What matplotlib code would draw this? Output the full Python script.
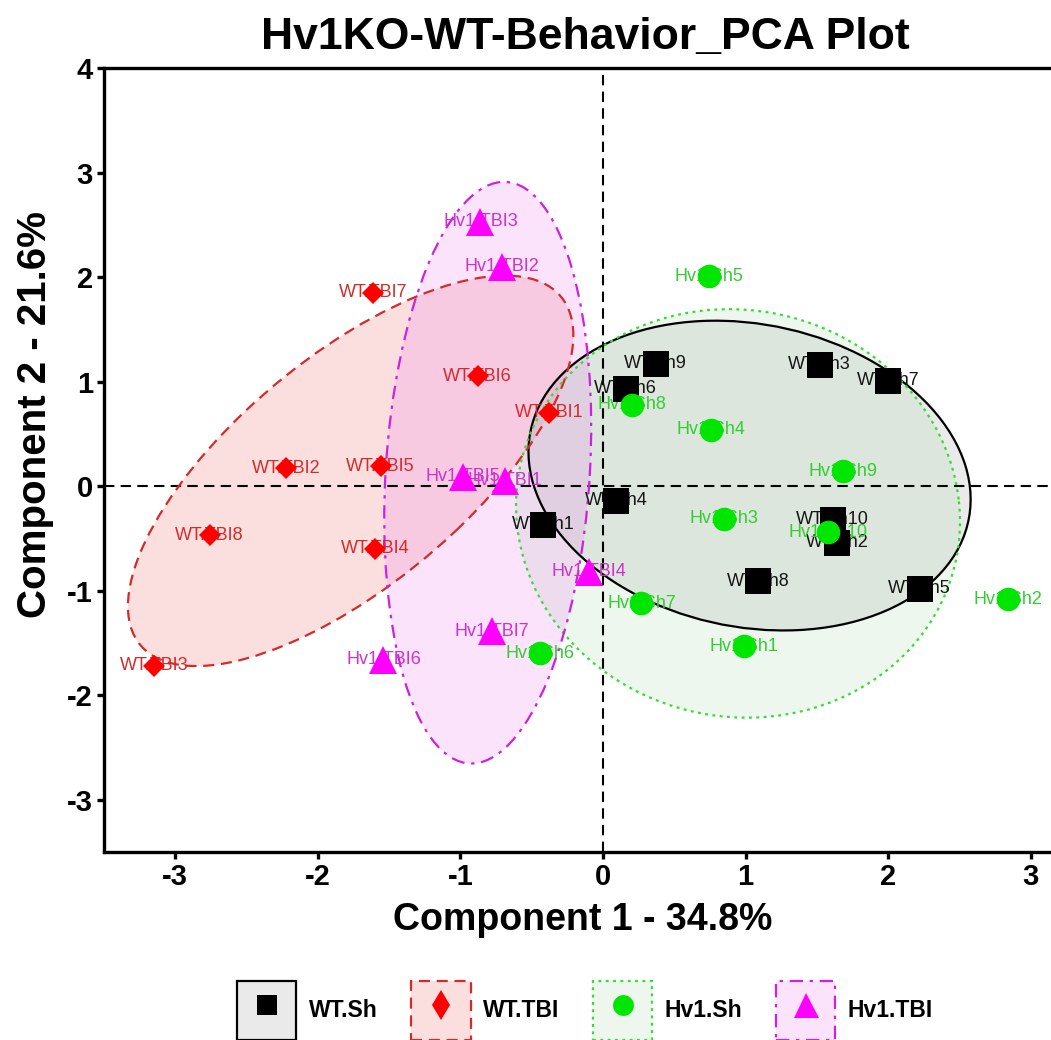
import numpy as np
import matplotlib.pyplot as plt
from matplotlib.colors import to_rgba
from matplotlib.patches import Ellipse, Rectangle
from matplotlib.lines import Line2D

# 数据
wt_sh_names = ['WT.Sh9', 'WT.Sh6', 'WT.Sh3', 'WT.Sh7', 'WT.Sh4',
               'WT.Sh1', 'WT.Sh10', 'WT.Sh2', 'WT.Sh8', 'WT.Sh5']
wt_sh_x = [0.37, 0.16, 1.52, 2.00, 0.09, -0.42, 1.61, 1.64, 1.09, 2.22]
wt_sh_y = [1.17, 0.93, 1.16, 1.01, -0.14, -0.37, -0.32, -0.54, -0.91, -0.98]

wt_tbi_names = ['WT.TBI7', 'WT.TBI6', 'WT.TBI1', 'WT.TBI2',
                'WT.TBI5', 'WT.TBI8', 'WT.TBI4', 'WT.TBI3']
wt_tbi_x = [-1.61, -0.88, -0.38, -2.22, -1.56, -2.76, -1.60, -3.15]
wt_tbi_y = [1.85, 1.05, 0.70, 0.17, 0.19, -0.47, -0.60, -1.72]

hv1_sh_names = ['Hv1.Sh5', 'Hv1.Sh8', 'Hv1.Sh4', 'Hv1.Sh9', 'Hv1.Sh3',
                'Hv1.Sh10', 'Hv1.Sh7', 'Hv1.Sh1', 'Hv1.Sh6', 'Hv1.Sh2']
hv1_sh_x = [0.74, 0.20, 0.76, 1.68, 0.85, 1.58, 0.27, 0.99, -0.44, 2.84]
hv1_sh_y = [2.01, 0.78, 0.54, 0.14, -0.31, -0.44, -1.12, -1.53, -1.60, -1.08]

hv1_tbi_names = ['Hv1.TBI3', 'Hv1.TBI2', 'Hv1.TBI5', 'Hv1.TBI1',
                 'Hv1.TBI4', 'Hv1.TBI7', 'Hv1.TBI6']
hv1_tbi_x = [-0.86, -0.71, -0.98, -0.69, -0.10, -0.78, -1.54]
hv1_tbi_y = [2.53, 2.10, 0.09, 0.05, -0.82, -1.39, -1.66]

group_labels = ['WT.Sh', 'WT.TBI', 'Hv1.Sh', 'Hv1.TBI']

plt.rcParams['font.family'] = ['Liberation Sans', 'DejaVu Sans']
plt.rcParams['axes.unicode_minus'] = False

groups = [
    dict(names=wt_sh_names, x=wt_sh_x, y=wt_sh_y, marker='s', ms=19, lm='s', lms=14,
         color='black', text='#151515', edge='black', fill='#9a9a9a', ls='-', falpha=0.2),
    dict(names=wt_tbi_names, x=wt_tbi_x, y=wt_tbi_y, marker='D', ms=11.5, lm='d', lms=15,
         color='#ff0000', text='#d42a2a', edge='#d42a2a', fill='#f07070', ls=(0, (5, 3)), falpha=0.22),
    dict(names=hv1_sh_names, x=hv1_sh_x, y=hv1_sh_y, marker='o', ms=17, lm='o', lms=15,
         color='#00e600', text='#33cc33', edge='#33dd33', fill='#a8d8a8', ls=(0, (1.3, 2)), falpha=0.2),
    dict(names=hv1_tbi_names, x=hv1_tbi_x, y=hv1_tbi_y, marker='^', ms=20, lm='^', lms=18,
         color='#ff00ff', text='#cc33cc', edge='#cc22dd', fill='#f080f0', ls=(0, (6, 3, 1.5, 3)), falpha=0.22),
]


def conf_ellipse(x, y, n_std=1.7, **kw):
    # 协方差置信椭圆
    cov = np.cov(x, y)
    vals, vecs = np.linalg.eigh(cov)
    order = vals.argsort()[::-1]
    vals, vecs = vals[order], vecs[:, order]
    angle = np.degrees(np.arctan2(vecs[1, 0], vecs[0, 0]))
    w, h = 2 * n_std * np.sqrt(vals)
    return Ellipse((np.mean(x), np.mean(y)), w, h, angle=angle, **kw)


class BoxMarkerHandler:
    # 图例: 带边框的方块 + 居中的标记
    def legend_artist(self, legend, orig_handle, fontsize, handlebox):
        g = orig_handle
        x0, y0 = handlebox.xdescent, handlebox.ydescent
        w, h = handlebox.width, handlebox.height
        rect = Rectangle((-x0, -y0), w, h, facecolor=to_rgba(g['fill'], g['falpha']),
                         edgecolor=g['edge'], linestyle=g['ls'], linewidth=1.6,
                         transform=handlebox.get_transform())
        mk = Line2D([-x0 + w / 2], [-y0 + h * 0.6], linestyle='none', marker=g['lm'],
                    markersize=g['lms'], color=g['color'], markeredgewidth=0,
                    transform=handlebox.get_transform())
        handlebox.add_artist(rect)
        handlebox.add_artist(mk)
        return rect


fig = plt.figure(figsize=(10.51, 10.40), dpi=100)
ax = fig.add_axes([104 / 1051, 1 - 852 / 1040, 998 / 1051, 784 / 1040])

for g in groups:
    ax.add_patch(conf_ellipse(g['x'], g['y'], facecolor=g['fill'], alpha=g['falpha'],
                              edgecolor='none', zorder=1))
    ax.add_patch(conf_ellipse(g['x'], g['y'], facecolor='none', edgecolor=g['edge'],
                              linestyle=g['ls'], linewidth=1.6, zorder=3))

ax.axhline(0, color='black', linestyle=(0, (5, 3)), linewidth=1.5, zorder=2)
ax.axvline(0, color='black', linestyle=(0, (5, 3)), linewidth=1.5, zorder=2)

for g in groups:
    for name, x, y in zip(g['names'], g['x'], g['y']):
        ax.text(x, y, name, color=g['text'], fontsize=13, ha='center', va='center', zorder=4)
    ax.plot(g['x'], g['y'], linestyle='none', marker=g['marker'], markersize=g['ms'],
            color=g['color'], markeredgewidth=0, zorder=5)

ax.set_xlim(-3.5, 3.5)
ax.set_ylim(-3.5, 4)
ax.set_xticks(range(-3, 4))
ax.set_yticks(range(-3, 5))
for s in ['left', 'bottom', 'top', 'right']:
    ax.spines[s].set_linewidth(2.4)
ax.tick_params(direction='out', length=5, width=2.4, labelsize=21, pad=3)
for lab in ax.get_xticklabels() + ax.get_yticklabels():
    lab.set_fontweight('bold')

fig.text(585 / 1051, 1 - 37 / 1040, 'Hv1KO-WT-Behavior_PCA Plot',
         fontsize=32, fontweight='bold', ha='center', va='center')
fig.text(583 / 1051, 1 - 920 / 1040, 'Component 1 - 34.8%',
         fontsize=27, fontweight='bold', ha='center', va='center')
fig.text(35 / 1051, 1 - 415 / 1040, 'Component 2 - 21.6%',
         fontsize=29, fontweight='bold', ha='center', va='center', rotation=90)

# 图例
handler = BoxMarkerHandler()
fig.legend(groups, group_labels, loc='upper center', ncol=4, frameon=False,
           handler_map={dict: handler},
           bbox_to_anchor=(585 / 1051, 1 - 981 / 1040), borderaxespad=0, borderpad=0,
           handlelength=2.6, handleheight=3.6, handletextpad=0.55, columnspacing=1.45,
           prop=dict(size=16.5, weight='bold'))

plt.savefig('out.png', dpi=100)
